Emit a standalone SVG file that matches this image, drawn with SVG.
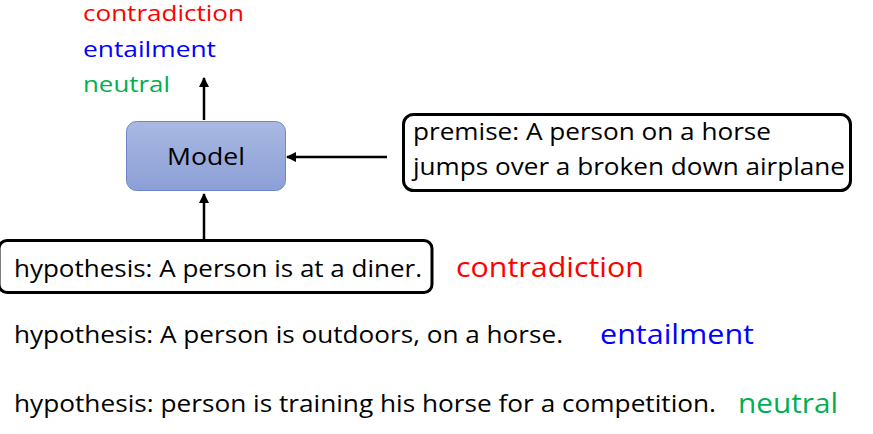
<svg xmlns="http://www.w3.org/2000/svg" width="873" height="434" viewBox="0 0 873 434">
<defs>
<linearGradient id="mg" x1="0" y1="0" x2="0" y2="1">
<stop offset="0" stop-color="#A9B9E2"/>
<stop offset="1" stop-color="#8C9FD6"/>
</linearGradient>
<marker id="ah" viewBox="0 0 10 10" refX="9" refY="5" markerWidth="4" markerHeight="4" orient="auto-start-reverse">
<path d="M0,0 L10,5 L0,10 z" fill="#000"/>
</marker>
<style>
text{font-family:"Open Sans","Noto Sans","Liberation Sans",sans-serif;}
.t{font-size:23px;fill:#000;}
.lbl{font-size:21px;}
.red{fill:#FF0000;}
.blue{fill:#0000FF;}
.green{fill:#00B050;}
.box{fill:#fff;stroke:#000;stroke-width:3;}
.conn{stroke:#000;stroke-width:2.5;fill:none;marker-end:url(#ah);}
</style>
</defs>
<rect width="873" height="434" fill="#fff"/>
<g id="outputs">
<text class="lbl red" x="83" y="21" textLength="161" lengthAdjust="spacingAndGlyphs">contradiction</text>
<text class="lbl blue" x="83" y="57" textLength="133" lengthAdjust="spacingAndGlyphs">entailment</text>
<text class="lbl green" x="83" y="92" textLength="87" lengthAdjust="spacingAndGlyphs">neutral</text>
</g>
<g id="model">
<rect x="126.5" y="121.5" width="159" height="69" rx="10" fill="url(#mg)" stroke="#6C86CC" stroke-width="1"/>
<text class="t" x="206" y="165" text-anchor="middle" font-size="24" textLength="78" lengthAdjust="spacingAndGlyphs">Model</text>
</g>
<g id="premise">
<rect class="box" x="403.5" y="114.5" width="447" height="76" rx="10"/>
<text class="t" x="413" y="140" textLength="358" lengthAdjust="spacingAndGlyphs">premise: A person on a horse</text>
<text class="t" x="413" y="175" textLength="432" lengthAdjust="spacingAndGlyphs">jumps over a broken down airplane</text>
</g>
<g id="hyp1">
<rect class="box" x="-1" y="240.5" width="433" height="52" rx="8"/>
<text class="t" x="14" y="277" textLength="408" lengthAdjust="spacingAndGlyphs">hypothesis: A person is at a diner.</text>
</g>
<g id="label1">
<text class="red" x="456" y="277" font-size="27" textLength="188" lengthAdjust="spacingAndGlyphs">contradiction</text>
</g>
<g id="hyp2">
<text class="t" x="14" y="343" font-size="24" textLength="549" lengthAdjust="spacingAndGlyphs">hypothesis: A person is outdoors, on a horse.</text>
</g>
<g id="label2">
<text class="blue" x="600" y="344" font-size="27" textLength="154" lengthAdjust="spacingAndGlyphs">entailment</text>
</g>
<g id="hyp3">
<text class="t" x="14" y="412" font-size="24" textLength="702" lengthAdjust="spacingAndGlyphs">hypothesis: person is training his horse for a competition.</text>
</g>
<g id="label3">
<text class="green" x="738" y="413" font-size="27" textLength="100" lengthAdjust="spacingAndGlyphs">neutral</text>
</g>
<g id="connectors">
<line class="conn" x1="204" y1="120" x2="204" y2="78"/>
<line class="conn" x1="387" y1="157" x2="287" y2="157"/>
<line class="conn" x1="204" y1="241" x2="204" y2="194"/>
</g>
</svg>
